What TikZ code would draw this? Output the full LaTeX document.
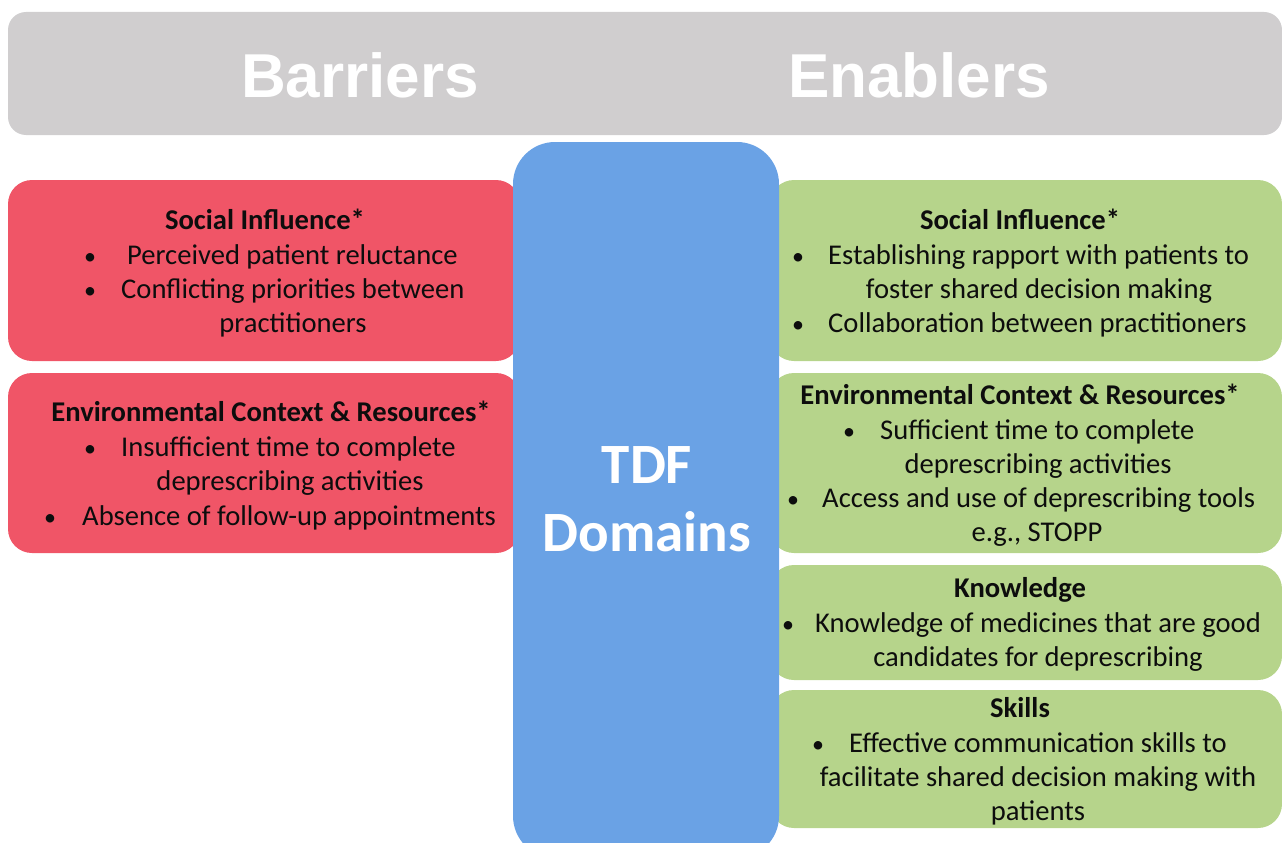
\documentclass[tikz,border=0pt]{standalone}
\usepackage{fontspec}
\setmainfont{Carlito}
\newfontfamily\headfont{Liberation Sans}
\begin{document}
\begin{tikzpicture}[x=1pt,y=-1pt,
  panel/.style={rectangle, rounded corners=#1, inner sep=0pt, outer sep=0pt},
  greybar/.style={panel=18pt, fill=headgrey},
  redbox/.style={panel=24pt, fill=barred},
  greenbox/.style={panel=24pt, fill=enabgreen},
  bluebox/.style={panel=42pt, fill=tdfblue},
  head/.style={font=\headfont\bfseries\fontsize{62}{62}\selectfont, text=white, inner sep=0pt, anchor=base},
  tdf/.style={font=\bfseries\fontsize{57}{57}\selectfont, text=white, inner sep=0pt, anchor=base},
  ln/.style={font=\fontsize{28.6}{28.6}\selectfont, text=txtblack, inner sep=0pt, anchor=base},
  lnw/.style={ln, anchor=base west},
  dot/.style={font=\fontsize{24}{24}\selectfont, text=txtblack, inner sep=0pt, anchor=base west},
  ttl/.style={ln, font=\bfseries\fontsize{28.6}{28.6}\selectfont},
]
\definecolor{headgrey}{HTML}{D0CECF}
\definecolor{barred}{HTML}{F05567}
\definecolor{enabgreen}{HTML}{B6D48B}
\definecolor{tdfblue}{HTML}{6AA2E5}
\definecolor{txtblack}{HTML}{0D0D0D}
\useasboundingbox (0,0) rectangle (1282,843);

% header band
\node[greybar, minimum width=1274pt, minimum height=123pt] (band) at (645,73.5) {};
\node[head] (hbar) at (360,97) {Barriers};
\node[head] (hen) at (919,97) {Enablers};

% barrier and enabler panels
\node[redbox, minimum width=512pt, minimum height=181pt] (r1) at (264,270.5) {};
\node[redbox, minimum width=512pt, minimum height=180pt] (r2) at (264,463) {};
\node[greenbox, minimum width=512pt, minimum height=181pt] (g1) at (1026,270.5) {};
\node[greenbox, minimum width=512pt, minimum height=180pt] (g2) at (1026,463) {};
\node[greenbox, minimum width=512pt, minimum height=115pt] (g3) at (1026,622.5) {};
\node[greenbox, minimum width=512pt, minimum height=138pt] (g4) at (1026,759) {};

% central TDF column
\node[bluebox, minimum width=266pt, minimum height=716pt] (tdfcol) at (646,500) {};
\node[tdf] (tdf1) at (647,483) {TDF};
\node[tdf] (tdf2) at (647,551) {Domains};

% barriers: social influence
\node[ttl] (r1h) at (265,229) {Social Influence*};
\node[dot] (r1b1) at (84,264) {•};
\node[lnw] (r1l1) at (127,264) {Perceived patient reluctance};
\node[dot] (r1b2) at (84,298) {•};
\node[lnw] (r1l2) at (121,298) {Conflicting priorities between};
\node[ln] (r1l3) at (293,332) {practitioners};

% barriers: environmental context
\node[ttl] (r2h) at (271,421) {Environmental Context \& Resources*};
\node[dot] (r2b1) at (84,456) {•};
\node[lnw] (r2l1) at (121,456) {Insufficient time to complete};
\node[ln] (r2l2) at (290,490) {deprescribing activities};
\node[dot] (r2b2) at (44,525) {•};
\node[lnw] (r2l3) at (82,525) {Absence of follow-up appointments};

% enablers: social influence
\node[ttl] (g1h) at (1020,229) {Social Influence*};
\node[dot] (g1b1) at (792,264) {•};
\node[lnw] (g1l1) at (828,264) {Establishing rapport with patients to};
\node[ln] (g1l2) at (1039,298) {foster shared decision making};
\node[dot] (g1b2) at (792,332) {•};
\node[lnw] (g1l3) at (828,332) {Collaboration between practitioners};

% enablers: environmental context
\node[ttl] (g2h) at (1020,404) {Environmental Context \& Resources*};
\node[dot] (g2b1) at (843,439) {•};
\node[lnw] (g2l1) at (880,439) {Sufficient time to complete};
\node[ln] (g2l2) at (1038,473) {deprescribing activities};
\node[dot] (g2b2) at (787,507) {•};
\node[lnw] (g2l3) at (822,507) {Access and use of deprescribing tools};
\node[ln] (g2l4) at (1037,541) {e.g., STOPP};

% enablers: knowledge
\node[ttl] (g3h) at (1020,597) {Knowledge};
\node[dot] (g3b1) at (782,632) {•};
\node[lnw] (g3l1) at (815,632) {Knowledge of medicines that are good};
\node[ln] (g3l2) at (1038,666) {candidates for deprescribing};

% enablers: skills
\node[ttl] (g4h) at (1020,717) {Skills};
\node[dot] (g4b1) at (812,752) {•};
\node[lnw] (g4l1) at (849,752) {Effective communication skills to};
\node[ln] (g4l2) at (1038,786) {facilitate shared decision making with};
\node[ln] (g4l3) at (1038,820) {patients};
\end{tikzpicture}
\end{document}
